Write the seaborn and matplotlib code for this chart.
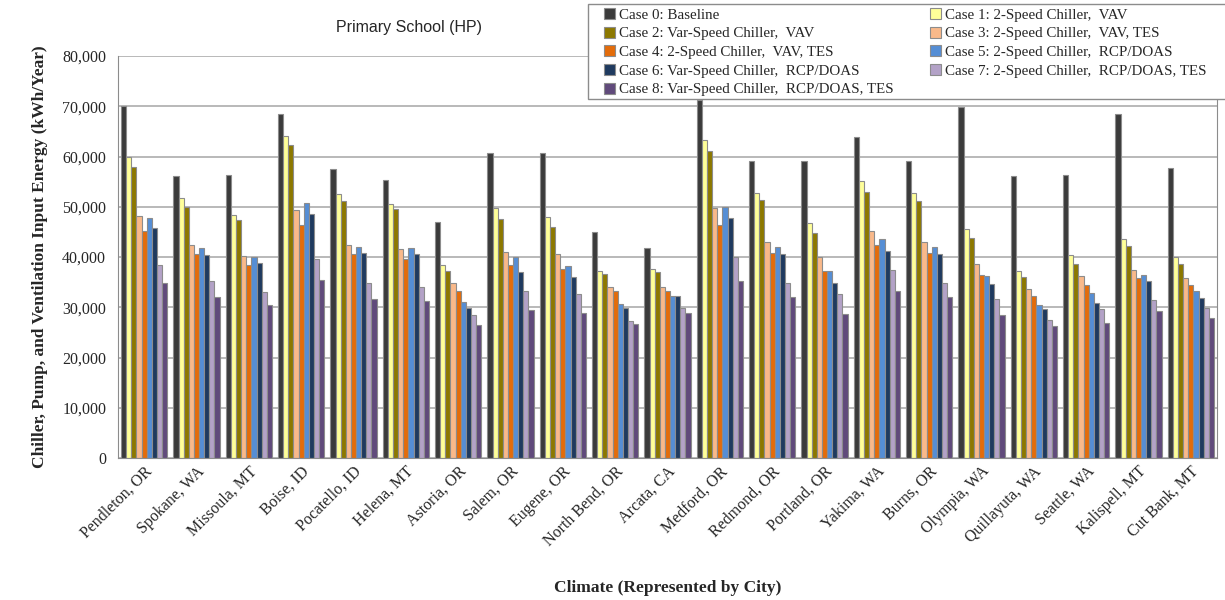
import numpy as np
import pandas as pd
import matplotlib.pyplot as plt
import seaborn as sns
from matplotlib.patches import Rectangle
from matplotlib.ticker import FuncFormatter, FixedLocator

cities = ["Pendleton, OR", "Spokane, WA", "Missoula, MT", "Boise, ID", "Pocatello, ID",
          "Helena, MT", "Astoria, OR", "Salem, OR", "Eugene, OR", "North Bend, OR",
          "Arcata, CA", "Medford, OR", "Redmond, OR", "Portland, OR", "Yakima, WA",
          "Burns, OR", "Olympia, WA", "Quillayuta, WA", "Seattle, WA", "Kalispell, MT",
          "Cut Bank, MT"]

cases = ["Case 0: Baseline",
         "Case 1: 2-Speed Chiller,  VAV",
         "Case 2: Var-Speed Chiller,  VAV",
         "Case 3: 2-Speed Chiller,  VAV, TES",
         "Case 4: 2-Speed Chiller,  VAV, TES",
         "Case 5: 2-Speed Chiller,  RCP/DOAS",
         "Case 6: Var-Speed Chiller,  RCP/DOAS",
         "Case 7: 2-Speed Chiller,  RCP/DOAS, TES",
         "Case 8: Var-Speed Chiller,  RCP/DOAS, TES"]

# one list per case, in city order (kWh/year)
case0 = [70000, 56200, 56400, 68400, 57600, 55400, 47000, 60600, 60600, 45000, 41800,
         71200, 59100, 59100, 63800, 59100, 69800, 56100, 56400, 68400, 57700]
case1 = [60000, 51700, 48400, 64000, 52600, 50600, 38500, 49700, 47900, 37300, 37600,
         63300, 52700, 46800, 55200, 52700, 45500, 37300, 40300, 43500, 40000]
case2 = [57900, 49900, 47300, 62300, 51200, 49500, 37300, 47500, 46000, 36700, 37100,
         61000, 51300, 44800, 53000, 51200, 43700, 36100, 38600, 42200, 38700]
case3 = [48200, 42400, 40200, 49400, 42400, 41600, 34800, 41000, 40500, 34000, 34000,
         49800, 42900, 40000, 45200, 43000, 38600, 33600, 36300, 37500, 35800]
case4 = [45200, 40500, 38500, 46300, 40500, 39700, 33300, 38400, 37700, 33300, 33300,
         46300, 40700, 37300, 42300, 40800, 36500, 32300, 34500, 35900, 34500]
case5 = [47700, 41800, 40000, 50700, 42000, 41800, 31100, 40000, 38300, 30600, 32300,
         49900, 41900, 37300, 43500, 42000, 36300, 30500, 32800, 36400, 33200]
case6 = [45800, 40400, 38900, 48500, 40800, 40500, 29900, 37000, 36100, 29900, 32300,
         47800, 40500, 34900, 41200, 40500, 34700, 29600, 30900, 35300, 31800]
case7 = [38500, 35300, 33000, 39600, 34800, 34000, 28500, 33300, 32600, 27300, 29800,
         40000, 34800, 32700, 37400, 34800, 31700, 27500, 29700, 31500, 29800]
case8 = [34800, 32000, 30500, 35500, 31700, 31300, 26400, 29400, 28900, 26700, 28800,
         35300, 32100, 28600, 33300, 32000, 28500, 26200, 26800, 29200, 27800]

colors = ["#3b3b3b", "#ffff99", "#8c7800", "#f9b98a", "#e36c0a",
          "#558ed5", "#1f3a5f", "#b3a2c7", "#604a7b"]

values = [case0, case1, case2, case3, case4, case5, case6, case7, case8]
df = pd.DataFrame({
    "city": np.tile(cities, len(cases)),
    "case": np.repeat(cases, len(cities)),
    "energy": np.concatenate(values),
})

sns.set_style("white")
plt.rcParams["font.family"] = ["Liberation Serif", "DejaVu Serif"]

W, H = 1225, 600
fig = plt.figure(figsize=(W / 100, H / 100), dpi=100)
ax = fig.add_axes([118 / W, 1 - 458 / H, (1217 - 118) / W, (458 - 56) / H])

sns.barplot(data=df, x="city", y="energy", hue="case", palette=colors, saturation=1,
            width=0.88, edgecolor="#8c8c8c", linewidth=0.8, ax=ax, legend=True)

ax.set_ylim(0, 80000)
ax.set_xlim(-0.5, len(cities) - 0.5)
ax.set_yticks(np.arange(0, 80001, 10000))
ax.yaxis.set_major_formatter(FuncFormatter(lambda v, p: f"{int(v):,}"))
ax.yaxis.grid(True, color="#a6a6a6", linewidth=1.1)
ax.set_axisbelow(True)

# tick marks between groups, labels at group centres
ax.xaxis.set_minor_locator(FixedLocator(np.arange(-0.5, len(cities), 1.0)))
ax.tick_params(axis="x", which="major", length=0, pad=4)
ax.tick_params(axis="x", which="minor", length=5, color="#8c8c8c", direction="out")
ax.tick_params(axis="y", length=5, color="#8c8c8c", direction="out", labelsize=11.5)
ax.set_xticks(range(len(cities)))
ax.set_xticklabels(cities, rotation=45, ha="right", rotation_mode="anchor", fontsize=11.5)

for s in ax.spines.values():
    s.set_color("#8c8c8c")
ax.spines["top"].set_visible(False)

ax.set_xlabel("Climate (Represented by City)", fontsize=12.5, fontweight="bold", labelpad=22)
ax.set_ylabel("Chiller, Pump, and Ventilation Input Energy (kWh/Year)",
              fontsize=12.5, fontweight="bold", labelpad=10)
ax.set_title("Primary School (HP)", fontsize=11.5, family="Liberation Sans",
             x=0.265, y=1.04)

handles, labels = ax.get_legend_handles_labels()
ax.get_legend().remove()

# legend box that runs off the right edge, as in the original
box = Rectangle((588 / W, 1 - 99 / H), (W + 10 - 588) / W, 95 / H,
                transform=fig.transFigure, facecolor="white", edgecolor="#8c8c8c",
                linewidth=1.0, zorder=4)
fig.patches.append(box)

# reorder so that two columns read across rows like the original
order = [0, 2, 4, 6, 8, 1, 3, 5, 7]
leg = fig.legend([handles[i] for i in order], [labels[i] for i in order],
                 ncol=2, loc="upper left", bbox_to_anchor=(604 / W, 1 - 8 / H),
                 fontsize=10.8, frameon=False, borderpad=0, borderaxespad=0,
                 handlelength=0.75, handleheight=0.75, handletextpad=0.25,
                 columnspacing=2.4, labelspacing=0.33)
leg.set_zorder(5)

fig.savefig("out.png", dpi=100)
